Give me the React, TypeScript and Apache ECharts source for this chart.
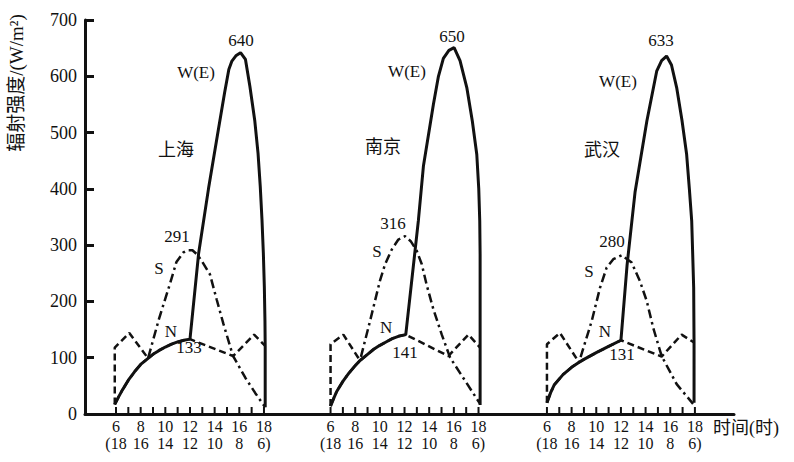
import React, { useEffect, useRef } from "react";
import * as echarts from "echarts";

// Horizontal placement of the three city panels on the shared hour axis
const groupOffsets = [0, 17.4, 34.95];
const cities = ["上海", "南京", "武汉"];
const hourTicks = [6, 7, 8, 9, 10, 11, 12, 13, 14, 15, 16, 17, 18];
const labelHours = [6, 8, 10, 12, 14, 16, 18];
const topLabels = ["6", "8", "10", "12", "14", "16", "18"];
const bottomLabels = ["(18", "16", "14", "12", "10", "8", "6)"];

// [hour, W/m²]
const shanghaiW = [[5.9,17],[6.2,30],[6.5,42],[7,60],[7.5,75],[8,88],[8.6,99],[9,106],[9.5,113],[10,119],[10.5,124],[11,128],[11.5,131],[12,133],[12.7,285],[13.5,400],[14.3,505],[14.8,570],[15.15,612],[15.4,627],[15.75,637],[16.1,642],[16.5,630],[16.86,582],[17.25,522],[17.52,463],[17.7,404],[17.84,345],[17.95,286],[18.03,226],[18.08,166],[18.1,121],[18.1,12]];
const shanghaiS = [[5.9,17],[6.2,30],[6.5,42],[7,60],[7.5,75],[8,88],[8.6,99],[9.5,170],[10.4,233],[10.9,270],[11.46,287],[11.8,291],[12.2,291],[12.6,283],[12.95,272],[13.62,248],[14.17,203],[14.7,161],[15.38,111],[15.5,103],[16.5,64],[17.3,37],[18.1,12]];
const shanghaiN = [[5.9,17],[5.9,118],[7.08,144],[8.6,99],[9,106],[9.5,113],[10,119],[10.5,124],[11,128],[11.5,131],[12,133],[15.5,103],[17.2,141],[18.1,121]];

const nanjingW = [[6,14],[6.3,30],[6.5,40],[7,58],[7.5,73],[8,86],[8.39,95],[9,106],[9.5,115],[10,122],[10.5,128],[11,134],[11.5,138],[12.1,141],[13.12,343],[13.53,440],[14.34,550],[14.75,600],[15.15,632],[15.6,646],[16.02,651],[16.5,628],[17.05,580],[17.5,520],[17.86,461],[18.02,400],[18.1,343],[18.13,284],[18.13,118],[18.13,16]];
const nanjingS = [[6,14],[6.3,30],[6.5,40],[7,58],[7.5,73],[8,86],[8.39,95],[9.2,165],[10.01,237],[10.42,266],[10.96,292],[11.5,310],[12.04,316],[12.5,307],[12.99,290],[13.4,266],[13.8,229],[14.34,186],[15.02,141],[15.55,109],[15.7,100],[18.13,18]];
const nanjingN = [[6,14],[6,124],[7.04,141],[8.39,95],[9,106],[9.5,115],[10,122],[10.5,128],[11,134],[11.5,138],[12.1,141],[15.55,103],[17.18,141],[18.13,118]];

const wuhanW = [[6,20],[6.3,38],[6.6,52],[7.3,70],[8,83],[8.55,91],[9,97],[10,109],[11,120],[12,131],[12.5,265],[12.85,335],[13.15,395],[14.1,520],[14.9,609],[15.3,628],[15.7,636],[16.1,620],[16.52,580],[16.95,522],[17.33,461],[17.55,400],[17.74,343],[17.82,284],[17.9,224],[17.93,127],[17.93,20]];
const wuhanS = [[6,20],[6.3,38],[6.6,52],[7.3,70],[8,83],[8.6,92],[9.63,165],[10.3,224],[10.84,260],[11.38,275],[12.06,282],[12.87,269],[13.54,236],[14.09,201],[14.62,153],[15.3,103],[16.52,53],[17.85,18]];
const wuhanN = [[6,20],[6,124],[7.05,144],[8.6,92],[9,97],[10,109],[11,120],[12,131],[15.3,102],[16.92,141],[17.93,127]];

// Annotations: [hour, W/m², text]
const shanghaiNotes = [[16.14,663,"640"],[12.49,606,"W(E)"],[10.87,472,"上海"],[10.95,316,"291"],[9.49,259,"S"],[10.46,147,"N"],[11.92,119,"133"]];
const nanjingNotes = [[15.85,670,"650"],[12.2,608,"W(E)"],[10.26,478,"南京"],[11.07,339,"316"],[9.77,288,"S"],[10.5,153,"N"],[12.04,110,"141"]];
const wuhanNotes = [[15.25,663,"633"],[11.76,590,"W(E)"],[10.46,472,"武汉"],[11.27,306,"280"],[9.41,254,"S"],[10.7,146,"N"],[12.08,105,"131"]];

const yName = "辐射强度/(W/m²)";
const xName = "时间(时)";

export default function App() {
  const ref = useRef<HTMLDivElement>(null);
  useEffect(() => {
    document.body.style.margin = "0";
    const chart = echarts.init(ref.current!, null, { renderer: "svg" });
    const serif = "'Liberation Serif', 'Times New Roman', 'Noto Sans CJK SC', serif";
    const ink = "#111";

    const tickValues = groupOffsets.flatMap((o) => hourTicks.map((h) => +(h + o).toFixed(3)));
    const labelValues = groupOffsets.flatMap((o) => labelHours.map((h) => +(h + o).toFixed(3)));
    const fmt = (v: number) => {
      for (const o of groupOffsets) {
        const idx = labelHours.findIndex((h) => Math.abs(h + o - v) < 0.01);
        if (idx >= 0) return topLabels[idx] + "\n" + bottomLabels[idx];
      }
      return "";
    };

    const shift = (arr: any[], g: number) => arr.map((p) => [p[0] + groupOffsets[g], p[1]]);
    const styles: Record<string, any> = {
      S: { color: ink, width: 2.5, type: [9, 4, 2.5, 4] },
      N: { color: ink, width: 2.5, type: [7, 4] },
      W: { color: ink, width: 3, type: "solid" },
    };
    const curves = [
      { g: 0, k: "S", d: shanghaiS }, { g: 1, k: "S", d: nanjingS }, { g: 2, k: "S", d: wuhanS },
      { g: 0, k: "N", d: shanghaiN }, { g: 1, k: "N", d: nanjingN }, { g: 2, k: "N", d: wuhanN },
      { g: 0, k: "W", d: shanghaiW }, { g: 1, k: "W", d: nanjingW }, { g: 2, k: "W", d: wuhanW },
    ];
    const series: any[] = curves.map((c, i) => ({
      type: "line",
      name: cities[c.g] + " " + c.k,
      data: shift(c.d, c.g),
      symbol: "none",
      smooth: false,
      z: 2 + i,
      lineStyle: styles[c.k],
      silent: true,
    }));

    // hourly tick marks on the time axis (only inside each city panel)
    series.push({
      type: "custom",
      name: "ticks",
      data: tickValues.map((v) => [v, 0]),
      clip: false,
      silent: true,
      z: 30,
      renderItem: (params: any, api: any) => {
        const p = api.coord([api.value(0), 0]);
        return {
          type: "line",
          shape: { x1: p[0], y1: p[1], x2: p[0], y2: p[1] - 7 },
          style: { stroke: ink, lineWidth: 2 },
        };
      },
    });

    const notes = [shanghaiNotes, nanjingNotes, wuhanNotes];
    const noteData: any[] = [];
    notes.forEach((arr, g) =>
      arr.forEach((n: any) => {
        const isCity = cities.includes(n[2]);
        noteData.push({
          name: n[2],
          value: [n[0] + groupOffsets[g], n[1]],
          label: { fontSize: isCity ? 18 : 17, fontFamily: isCity ? "'Noto Sans CJK SC', sans-serif" : serif },
        });
      })
    );
    series.push({
      type: "scatter",
      name: "notes",
      data: noteData,
      symbolSize: 0,
      itemStyle: { color: ink },
      silent: true,
      z: 20,
      label: { show: true, position: "inside", formatter: "{b}", color: ink, opacity: 1, fontFamily: serif, fontSize: 17 },
    });

    chart.setOption({
      animation: false,
      backgroundColor: "#fff",
      grid: { left: 85, right: 60, top: 20, bottom: 48 },
      xAxis: {
        type: "value",
        min: 3.486,
        max: 56.12,
        axisLine: { show: true, onZero: false, lineStyle: { color: ink, width: 3 } },
        axisTick: { show: false },
        axisLabel: {
          customValues: labelValues,
          formatter: fmt,
          showMinLabel: true,
          showMaxLabel: true,
          fontFamily: serif,
          fontSize: 16,
          lineHeight: 17,
          color: ink,
          margin: 4,
        },
        splitLine: { show: false },
        name: xName,
        nameLocation: "end",
        nameGap: -21,
        nameTextStyle: { fontFamily: serif, fontSize: 18, color: ink, align: "left", verticalAlign: "top", padding: [5, 0, 0, 0] },
      },
      yAxis: {
        type: "value",
        min: 0,
        max: 700,
        interval: 100,
        axisLine: { show: true, lineStyle: { color: ink, width: 3 } },
        axisTick: { show: true, inside: true, length: 9, lineStyle: { color: ink, width: 3 } },
        axisLabel: { fontFamily: serif, fontSize: 18, color: ink, margin: 8 },
        splitLine: { show: false },
      },
      graphic: [
        {
          type: "text",
          x: 16,
          y: 83,
          rotation: Math.PI / 2,
          style: { text: yName, font: "19px 'Liberation Serif', 'Noto Sans CJK SC', serif", fill: ink, textAlign: "center", textVerticalAlign: "middle" },
        },
      ],
      series,
    });
    return () => chart.dispose();
  }, []);
  return <div ref={ref} style={{ width: 794, height: 462 }} />;
}
